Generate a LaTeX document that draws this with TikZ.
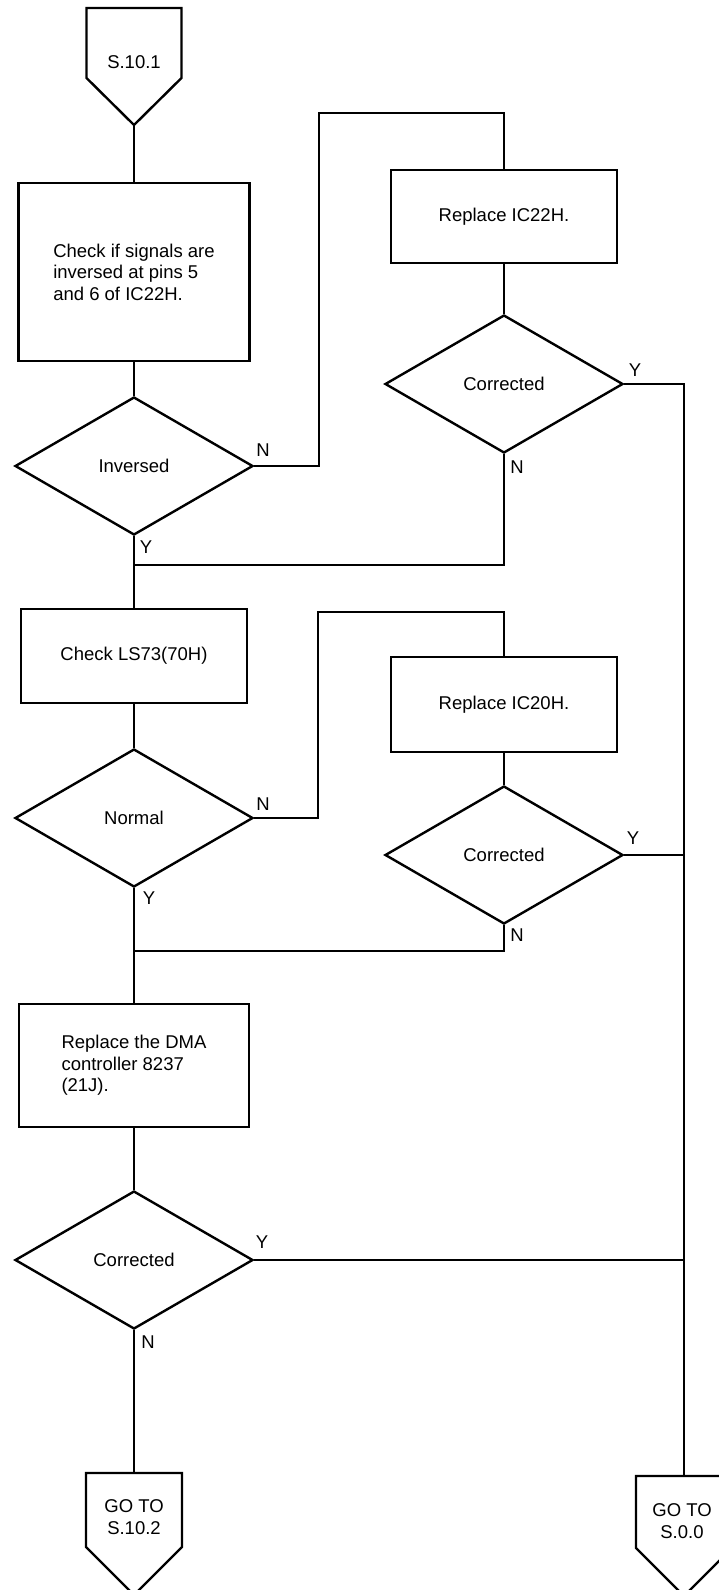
\documentclass[tikz,border=0pt]{standalone}
\usepackage{fontspec}
\setmainfont{Liberation Sans}
\usetikzlibrary{shapes.geometric}
\begin{document}
\begin{tikzpicture}[x=1pt,y=-1pt,line width=2.4pt,line join=miter,
  every node/.style={font=\fontsize{18.5}{21.5}\selectfont,inner sep=0pt},
  procbox/.style={draw,rectangle,align=left},
  decbox/.style={draw,diamond,aspect=1.72,minimum width=238pt,minimum height=138pt},
  yn/.style={},
  conn/.style={line width=2.4pt}]
\useasboundingbox (0,0) rectangle (718,1590);
\fill[white] (0,0) rectangle (718,1590);

% start connector
\coordinate (s101tip) at (134,125);
\draw[conn] (86.5,8) -- (86.5,78) -- (s101tip) -- (181.5,78) -- (181.5,8) -- cycle;
\node (t101) at (134,62) {S.10.1};

% boxes and decisions
\node[procbox,minimum width=231pt,minimum height=178pt] (b1) at (134,272) {Check if signals are\\inversed at pins 5\\and 6 of IC22H.};
\node[decbox] (d1) at (134,466) {Inversed};
\node[procbox,minimum width=226pt,minimum height=93pt] (b2) at (504,216.5) {Replace IC22H.};
\node[decbox] (d2) at (504,384) {Corrected};
\node[procbox,minimum width=226pt,minimum height=94pt] (b3) at (134,656) {Check LS73(70H)};
\node[decbox] (d3) at (134,818) {Normal};
\node[procbox,minimum width=226pt,minimum height=95pt] (b4) at (504,704.5) {Replace IC20H.};
\node[decbox] (d4) at (504,855) {Corrected};
\node[procbox,minimum width=230pt,minimum height=123pt] (b5) at (134,1065.5) {Replace the DMA\\controller 8237\\(21J).};
\node[decbox] (d5) at (134,1260) {Corrected};

% end connectors
\coordinate (g1top) at (134,1473);
\draw[conn] (86,1473) -- (86,1547) -- (134,1595) -- (182,1547) -- (182,1473) -- cycle;
\node[align=center] (tg1) at (134,1517) {GO TO\\S.10.2};
\coordinate (g2top) at (684,1476);
\draw[conn] (636,1476) -- (636,1548) -- (684,1596) -- (732,1548) -- (732,1476) -- cycle;
\node[align=center] (tg2) at (682,1521) {GO TO\\S.0.0};

% junction / routing coordinates
\coordinate (r1) at (319,113);
\coordinate (r2) at (318,612);
\coordinate (j1) at (134,565);
\coordinate (j2) at (134,951);

% connectors
\draw[conn] (s101tip) -- (b1.north);
\draw[conn] (b1.south) -- (d1.north);
\draw[conn] (d1.south) -- (b3.north);
\draw[conn] (d1.east) -| (r1) -| (b2.north);
\draw[conn] (b2.south) -- (d2.north);
\draw[conn] (d2.south) |- (j1);
\draw[conn] (d2.east) -| (g2top);
\draw[conn] (b3.south) -- (d3.north);
\draw[conn] (d3.south) -- (b5.north);
\draw[conn] (d3.east) -| (r2) -| (b4.north);
\draw[conn] (b4.south) -- (d4.north);
\draw[conn] (d4.south) |- (j2);
\draw[conn] (d4.east) -- (d4.east -| g2top);
\draw[conn] (b5.south) -- (d5.north);
\draw[conn] (d5.east) -- (d5.east -| g2top);
\draw[conn] (d5.south) -- (g1top);

% Y / N labels
\node[yn] (n1) at (263,450) {N};
\node[yn] (y1) at (146,547) {Y};
\node[yn] (y2) at (635,370) {Y};
\node[yn] (n2) at (517,467) {N};
\node[yn] (n3) at (263,804) {N};
\node[yn] (y3) at (149,898) {Y};
\node[yn] (y4) at (633,838) {Y};
\node[yn] (n4) at (517,935) {N};
\node[yn] (y5) at (262,1242) {Y};
\node[yn] (n5) at (148,1342) {N};
\end{tikzpicture}
\end{document}
